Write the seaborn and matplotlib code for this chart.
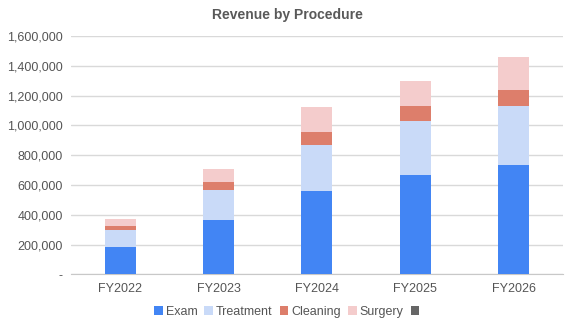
import numpy as np
import pandas as pd
import matplotlib
matplotlib.use("Agg")
import matplotlib.pyplot as plt
from matplotlib.patches import Patch
from matplotlib.ticker import FuncFormatter
import seaborn as sns

years = ["FY2022", "FY2023", "FY2024", "FY2025", "FY2026"]
exam = [183000, 365000, 559000, 667000, 734000]
treatment = [116000, 201000, 309000, 362000, 396000]
cleaning = [25000, 54000, 87000, 101000, 107000]
surgery = [47000, 87000, 168000, 168000, 222000]
series_names = ["Exam", "Treatment", "Cleaning", "Surgery"]
colors = ["#4285F4", "#C9DAF8", "#DD7E6B", "#F4CCCC"]
extra_legend_color = "#666666"

sns.set_style("white")
plt.rcParams["font.family"] = ["Liberation Sans", "DejaVu Sans"]

fig = plt.figure(figsize=(5.74, 3.27), dpi=100)
ax = fig.add_axes([0.1237, 0.161, 0.857, 0.729])

df = pd.DataFrame({"year": years, "Exam": exam, "Treatment": treatment,
                   "Cleaning": cleaning, "Surgery": surgery})
bottom = np.zeros(len(years))
for name, col in zip(series_names, colors):
    sns.barplot(data=df, x="year", y=name, color=col, bottom=bottom,
                width=0.315, ax=ax, saturation=1, linewidth=0, zorder=3)
    bottom = bottom + df[name].to_numpy()

ax.set_ylim(0, 1600000)
ax.set_yticks(np.arange(0, 1600001, 200000))
ax.yaxis.set_major_formatter(FuncFormatter(lambda v, p: "-" if v == 0 else f"{int(v):,}"))
ax.grid(axis="y", color="#D9D9D9", linewidth=1, zorder=0)
ax.set_axisbelow(True)
for s in ["top", "right", "left"]:
    ax.spines[s].set_visible(False)
ax.spines["bottom"].set_color("#C8C8C8")
ax.tick_params(axis="both", length=0, colors="#555555", labelsize=9, pad=6)
ax.set_xlabel("")
ax.set_ylabel("")
ax.set_xlim(-0.5, 4.5)

fig.suptitle("Revenue by Procedure", x=0.5, y=0.975, fontsize=10,
             fontweight="bold", color="#595959")

handles = [Patch(facecolor=c, edgecolor="none") for c in colors] + \
          [Patch(facecolor=extra_legend_color, edgecolor="none")]
labels = series_names + [""]
fig.legend(handles, labels, loc="center", bbox_to_anchor=(0.502, 0.047), ncol=5,
           frameon=False, fontsize=9, handlelength=0.7, handleheight=0.7,
           handletextpad=0.25, columnspacing=0.55, labelcolor="#555555")

fig.savefig("out.png", dpi=100)
